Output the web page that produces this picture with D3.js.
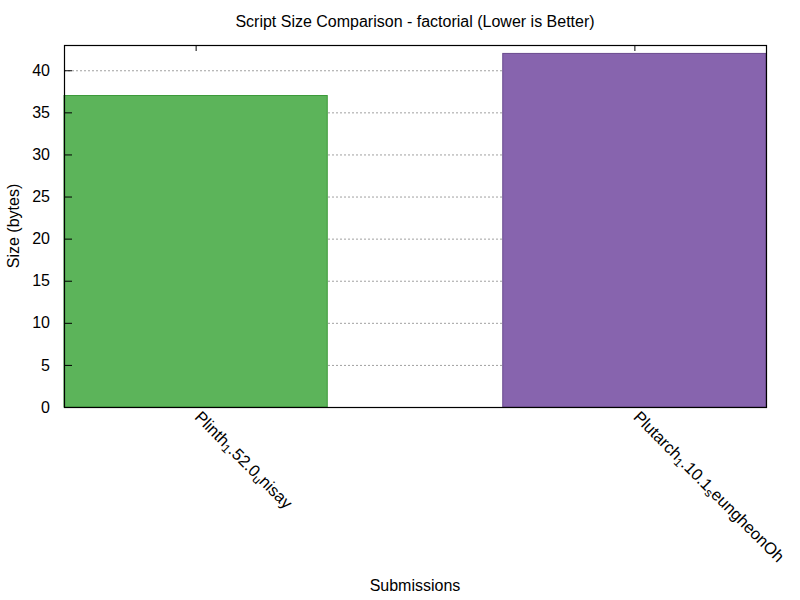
<!DOCTYPE html>
<html>
<head>
<meta charset="utf-8">
<script src="https://cdn.jsdelivr.net/npm/d3@7"></script>
<style>
  body { margin: 0; background: #fff; }
  text { font-family: "Liberation Sans", Arial, sans-serif; }
</style>
</head>
<body>
<div class="svg-container"></div>
<script>
// label parts: [text, isSubscript]
const labels = [
  [["Plinth", false], ["1", true], [".52.0", false], ["u", true], ["nisay", false]],
  [["Plutarch", false], ["1", true], [".10.1", false], ["s", true], ["eungheonOh", false]]
];
const sizes = [37, 42];
const fills = ["#5cb45a", "#8764ae"];
const strokes = ["#3c9a3a", "#6a4a8f"];
const yTicks = [0, 5, 10, 15, 20, 25, 30, 35, 40];

const width = 800;
const height = 600;
const margin = { top: 45, right: 34, bottom: 193, left: 64 };

const svg = d3.select('.svg-container')
  .append('svg')
  .attr('width', width)
  .attr('height', height);

const x = d3.scaleLinear()
  .domain([-0.3, sizes.length - 0.7])
  .range([margin.left, width - margin.right]);

const y = d3.scaleLinear()
  .domain([0, 43])
  .range([height - margin.bottom, margin.top]);

// grid
svg.append('g')
  .selectAll('line')
  .data(yTicks.filter(d => d > 0))
  .enter()
  .append('line')
  .attr('x1', margin.left)
  .attr('x2', width - margin.right)
  .attr('y1', d => y(d) + 0.5)
  .attr('y2', d => y(d) + 0.5)
  .attr('stroke', '#a0a0a0')
  .attr('stroke-dasharray', '2,2');

// bars
svg.selectAll('.bar')
  .data(sizes)
  .enter()
  .append('rect')
  .attr('class', 'bar')
  .attr('x', (d, i) => x(i - 0.3))
  .attr('width', (d, i) => x(i + 0.3) - x(i - 0.3))
  .attr('y', d => y(d))
  .attr('height', d => y(0) - y(d))
  .attr('fill', (d, i) => fills[i])
  .attr('stroke', (d, i) => strokes[i])
  .attr('stroke-width', 1);

// y axis
const yAxis = d3.axisLeft(y).tickValues(yTicks).tickSize(-8).tickPadding(14);
const gy = svg.append('g')
  .attr('transform', `translate(${margin.left},0)`)
  .call(yAxis);
gy.select('.domain').remove();
gy.selectAll('text').attr('font-size', 16).attr('fill', '#000');
gy.selectAll('line').attr('stroke', '#000');

// top ticks at categories
svg.append('g')
  .selectAll('line')
  .data(sizes)
  .enter()
  .append('line')
  .attr('x1', (d, i) => x(i) + 0.5)
  .attr('x2', (d, i) => x(i) + 0.5)
  .attr('y1', margin.top)
  .attr('y2', margin.top + 6)
  .attr('stroke', '#000');

// frame
svg.append('rect')
  .attr('x', margin.left + 0.5)
  .attr('y', margin.top + 0.5)
  .attr('width', width - margin.right - margin.left)
  .attr('height', height - margin.bottom - margin.top)
  .attr('fill', 'none')
  .attr('stroke', '#000')
  .attr('stroke-width', 1.2);

// category labels, rotated
const lab = svg.append('g')
  .selectAll('text')
  .data(labels)
  .enter()
  .append('text')
  .attr('transform', (d, i) => `translate(${x(i) - 2},${y(0) + 11}) rotate(45)`)
  .attr('font-size', 16.5)
  .attr('fill', '#000');

lab.each(function(parts) {
  const t = d3.select(this);
  let sub = false;
  parts.forEach(p => {
    const ts = t.append('tspan').text(p[0]);
    if (p[1] && !sub) { ts.attr('dy', 3).attr('font-size', 12); sub = true; }
    else if (!p[1] && sub) { ts.attr('dy', -3); sub = false; }
  });
});

// title
svg.append('text')
  .attr('x', (margin.left + width - margin.right) / 2)
  .attr('y', 27)
  .attr('text-anchor', 'middle')
  .attr('font-size', 16)
  .text('Script Size Comparison - factorial (Lower is Better)');

svg.append('text')
  .attr('x', (margin.left + width - margin.right) / 2)
  .attr('y', 591)
  .attr('text-anchor', 'middle')
  .attr('font-size', 16)
  .text('Submissions');

svg.append('text')
  .attr('transform', `translate(19,${(margin.top + height - margin.bottom) / 2}) rotate(-90)`)
  .attr('text-anchor', 'middle')
  .attr('font-size', 16)
  .text('Size (bytes)');
</script>
</body>
</html>
